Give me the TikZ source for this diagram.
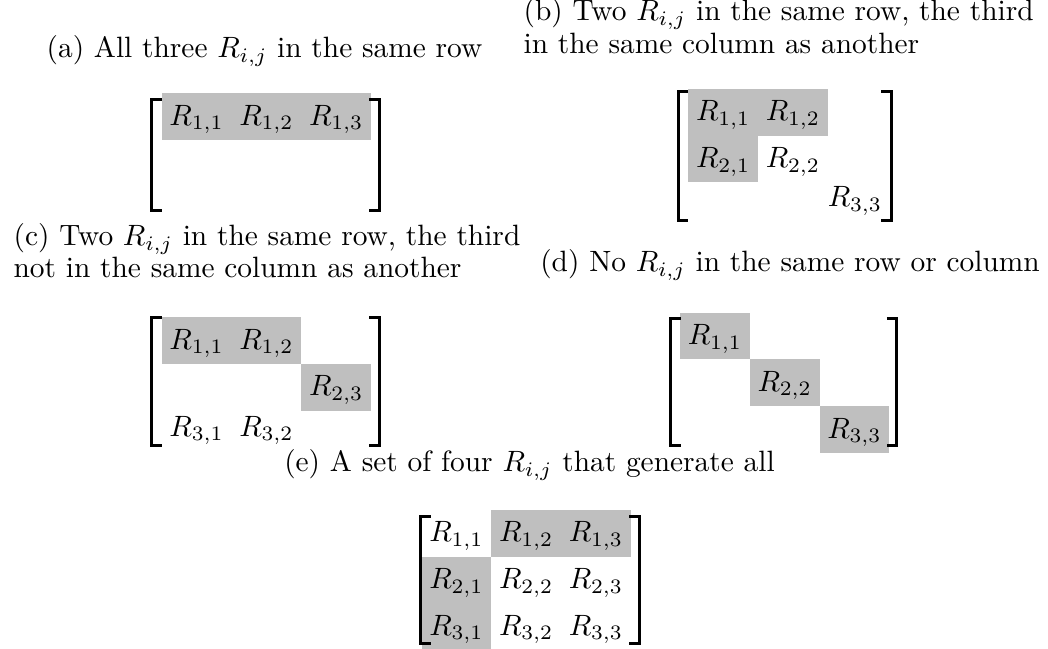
\documentclass[tikz,border=0pt]{standalone}
\usepackage{amsmath}
% outer left x, outer right x, outer top y, outer bottom y (pixel units)
\newcommand\drawbrackets[4]{%
  \draw[brk] ({#1+11.5},{#3+1.47}) -- ({#1+1.47},{#3+1.47}) -- ({#1+1.47},{#4-1.47}) -- ({#1+11.5},{#4-1.47});
  \draw[brk] ({#2-11.5},{#3+1.47}) -- ({#2-1.47},{#3+1.47}) -- ({#2-1.47},{#4-1.47}) -- ({#2-11.5},{#4-1.47});}
\begin{document}
\begin{tikzpicture}[x=0.340136pt, y=-0.340136pt,
  ent/.style={anchor=base, inner sep=0pt},
  capc/.style={anchor=base, inner sep=0pt},
  capl/.style={anchor=base west, inner sep=0pt},
  shade/.style={fill=lightgray, draw=none},
  brk/.style={line width=1pt, line join=miter, line cap=butt}]
\useasboundingbox (0,0) rectangle (1048,649);

% ---------- (a) ----------
\node[capc] (capa) at (264.5,58) {(a) All three $R_{i,j}$ in the same row};
\fill[shade] (161.7,93.3) rectangle (371.1,140);
\node[ent] (a11) at (196.6,125.3) {$R_{1,1}$};
\node[ent] (a12) at (266.4,125.3) {$R_{1,2}$};
\node[ent] (a13) at (336.2,125.3) {$R_{1,3}$};
\drawbrackets{150}{380.7}{98}{212}

% ---------- (b) ----------
\node[capl] (capb1) at (523,21) {(b) Two $R_{i,j}$ in the same row, the third};
\node[capl] (capb2) at (523,54) {in the same column as another};
\fill[shade] (688.3,89) rectangle (827.9,135.7);
\fill[shade] (688.3,135.7) rectangle (758.1,182.4);
\node[ent] (b11) at (723.2,121) {$R_{1,1}$};
\node[ent] (b12) at (793,121) {$R_{1,2}$};
\node[ent] (b21) at (723.2,167.7) {$R_{2,1}$};
\node[ent] (b22) at (793,167.7) {$R_{2,2}$};
\node[ent] (b33) at (855,207) {$R_{3,3}$};
\drawbrackets{676.7}{892.7}{90}{221.7}

% ---------- (c) ----------
\node[capl] (capc1) at (13,246) {(c) Two $R_{i,j}$ in the same row, the third};
\node[capl] (capc2) at (13,278) {not in the same column as another};
\fill[shade] (161.7,317.3) rectangle (301.3,364);
\fill[shade] (301.3,364) rectangle (371.1,410.7);
\node[ent] (c11) at (196.6,349.3) {$R_{1,1}$};
\node[ent] (c12) at (266.4,349.3) {$R_{1,2}$};
\node[ent] (c23) at (336.2,396) {$R_{2,3}$};
\node[ent] (c31) at (196.6,436.5) {$R_{3,1}$};
\node[ent] (c32) at (266.4,436.5) {$R_{3,2}$};
\drawbrackets{150}{380.7}{316.5}{446.7}

% ---------- (d) ----------
\node[capc] (capd) at (790,272) {(d) No $R_{i,j}$ in the same row or column};
\fill[shade] (680,312.7) rectangle (749.8,359.4);
\fill[shade] (749.8,359.4) rectangle (819.6,406.1);
\fill[shade] (819.6,406.1) rectangle (889.4,452.8);
\node[ent] (d11) at (714.9,344.7) {$R_{1,1}$};
\node[ent] (d22) at (784.7,391.4) {$R_{2,2}$};
\node[ent] (d33) at (854.5,438.1) {$R_{3,3}$};
\drawbrackets{669.3}{898.3}{316.7}{446.7}

% ---------- (e) ----------
\node[capc] (cape) at (529.5,472) {(e) A set of four $R_{i,j}$ that generate all};
\fill[shade] (421.7,556.7) rectangle (491.3,650);
\fill[shade] (491.3,510) rectangle (630.9,556.7);
\node[ent] (e11) at (456.5,542) {$R_{1,1}$};
\node[ent] (e12) at (526.2,542) {$R_{1,2}$};
\node[ent] (e13) at (596,542) {$R_{1,3}$};
\node[ent] (e21) at (456.5,588.7) {$R_{2,1}$};
\node[ent] (e22) at (526.2,588.7) {$R_{2,2}$};
\node[ent] (e23) at (596,588.7) {$R_{2,3}$};
\node[ent] (e31) at (456.5,635.4) {$R_{3,1}$};
\node[ent] (e32) at (526.2,635.4) {$R_{3,2}$};
\node[ent] (e33) at (596,635.4) {$R_{3,3}$};
\drawbrackets{419.3}{640.7}{515}{645}
\end{tikzpicture}
\end{document}
